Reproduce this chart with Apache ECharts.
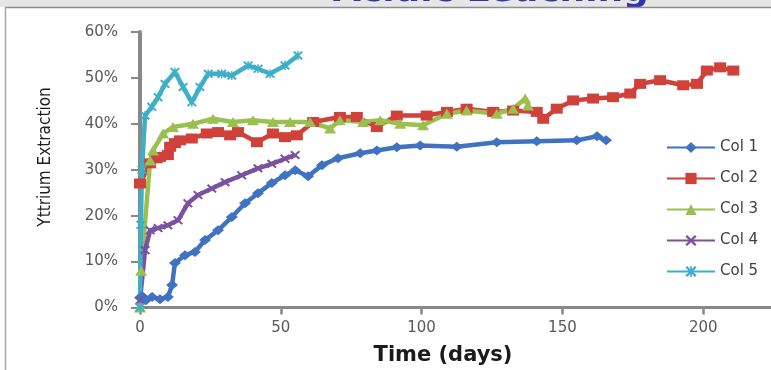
<!DOCTYPE html>
<html>
<head>
<meta charset="utf-8">
<script src="https://cdn.jsdelivr.net/npm/echarts/dist/echarts.min.js"></script>
<style>
html, body { margin: 0; padding: 0; background: #fff; }
#myEcharts { width: 771px; height: 370px; }
</style>
</head>
<body>
<div id="myEcharts"></div>
<script>
// values: time in days, extraction in %
var seriesNames = ['Col 1', 'Col 2', 'Col 3', 'Col 4', 'Col 5'];

var col1Days = [0, 0.7, 2.1, 4.3, 7.1, 9.9, 11.4, 12.4, 16, 19.5, 23.1, 27.7, 32.6, 37.3, 41.9, 46.8, 51.5, 55.1, 59.7, 64.6, 70.3, 78.2, 84.1, 91.2, 99.5, 112.5, 126.7, 140.9, 155.1, 162.3, 165.5];
var col1Vals = [2.1, 2.5, 1.6, 2.3, 1.8, 2.3, 4.9, 9.7, 11.4, 12.1, 14.7, 16.8, 19.7, 22.7, 24.9, 27.1, 28.8, 29.9, 28.6, 31, 32.5, 33.6, 34.2, 34.9, 35.3, 35, 36, 36.2, 36.4, 37.3, 36.4];

var col2Days = [0, 3.6, 5.9, 7.1, 9.9, 10.7, 12.4, 14.2, 18.4, 23.7, 27.7, 32, 34.8, 41.5, 47.2, 51.5, 55.7, 61.5, 71, 77, 84.1, 91.2, 101.8, 109, 116, 125.4, 132.5, 140.9, 143.2, 148, 153.8, 160.9, 168, 174.1, 177.6, 184.7, 192.9, 197.8, 201.3, 206, 210.7];
var col2Vals = [27, 31.4, 32.5, 32.8, 33.2, 35, 35.8, 36.4, 36.8, 37.9, 38.2, 37.5, 38.2, 36, 37.9, 37.1, 37.5, 40.4, 41.5, 41.5, 39.3, 41.8, 41.8, 42.6, 43.3, 42.6, 42.9, 42.6, 41.1, 43.3, 45.1, 45.5, 45.8, 46.6, 48.7, 49.5, 48.4, 48.7, 51.6, 52.3, 51.6];

var col3Days = [0, 0.4, 3.6, 4.6, 8.2, 11.7, 18.8, 25.9, 33, 40.1, 47.2, 53.3, 60.4, 67.5, 71, 79.2, 85.3, 92.4, 100.5, 109, 116, 126.7, 132.5, 136.8, 137.8];
var col3Vals = [0, 8, 32, 34.2, 37.9, 39.3, 40, 41.1, 40.4, 40.8, 40.4, 40.4, 40.4, 39, 40.8, 40.4, 40.8, 40, 39.7, 42.2, 42.9, 42.2, 43.3, 45.5, 44];

var col4Days = [0, 1.8, 3.6, 6.4, 9.9, 13.5, 17, 20.6, 25.5, 30.2, 36.1, 41.9, 46.8, 51.5, 55.1];
var col4Vals = [1.6, 12.5, 16.8, 17.3, 17.9, 19, 22.7, 24.5, 25.9, 27.3, 28.8, 30.3, 31.3, 32.4, 33.2];

var col5Days = [0, 0.3, 0.7, 1.8, 4.2, 6.4, 8.9, 12.4, 15.3, 18.4, 21.3, 24.2, 29, 32.6, 38.4, 41.9, 46.2, 51.5, 56.1];
var col5Vals = [0, 18, 30, 41.8, 43.7, 45.8, 48.7, 51.3, 48, 44.7, 48, 50.9, 50.9, 50.5, 52.7, 52, 50.9, 52.7, 54.9];

var xTicks = [0, 50, 100, 150, 200];
var yTicks = [0, 10, 20, 30, 40, 50, 60];

var colors = ['#3F73C2', '#D0413A', '#9AC150', '#7B529F', '#3EAFC8'];
var xMark = 'path://M0,1.5L1.5,0L5,3.5L8.5,0L10,1.5L6.5,5L10,8.5L8.5,10L5,6.5L1.5,10L0,8.5L3.5,5Z';
var starMark = 'path://M0,1.5L1.5,0L5,3.5L8.5,0L10,1.5L6.5,5L10,8.5L8.5,10L5,6.5L1.5,10L0,8.5L3.5,5Z M4.3,0L5.7,0L5.7,10L4.3,10Z';
var symbols = ['diamond', 'rect', 'triangle', xMark, starMark];
var symbolSizes = [[12, 10], [12, 10], [12, 10], [10, 9], [10, 9]];

function zip(days, vals) {
    let out = [];
    days.forEach(function (d, i) {
        out.push([d, vals[i]]);
    });
    return out;
}

var allData = [
    zip(col1Days, col1Vals),
    zip(col2Days, col2Vals),
    zip(col3Days, col3Vals),
    zip(col4Days, col4Vals),
    zip(col5Days, col5Vals)
];

var series = [];
seriesNames.forEach(function (name, i) {
    series.push({
        name: name,
        type: 'line',
        data: allData[i],
        symbol: symbols[i],
        symbolSize: symbolSizes[i],
        showAllSymbol: true,
        clip: false,
        itemStyle: { color: colors[i] },
        lineStyle: { color: colors[i], width: 4.5 }
    });
});

var myChart = echarts.init(document.getElementById('myEcharts'));

myChart.setOption({
    animation: false,
    color: colors,
    // plot area runs past the right edge, the picture is cut there
    grid: {
        left: 140,
        top: 32,
        height: 275.5,
        width: 704,
        outerBoundsMode: 'none',
        containLabel: false
    },
    legend: {
        orient: 'vertical',
        left: 661,
        top: 135,
        itemWidth: 48,
        itemHeight: 14,
        itemGap: 16,
        data: seriesNames,
        textStyle: { color: '#404040', fontSize: 15, fontFamily: 'DejaVu Sans' }
    },
    xAxis: {
        type: 'value',
        min: xTicks[0],
        max: 250,
        interval: xTicks[1] - xTicks[0],
        splitLine: { show: false },
        axisLine: { lineStyle: { color: '#888', width: 3 } },
        axisTick: { length: 7, lineStyle: { color: '#888', width: 2.5 } },
        axisLabel: {
            color: '#595959',
            fontSize: 15,
            fontFamily: 'DejaVu Sans',
            margin: 13,
            formatter: function (v) { return xTicks.indexOf(v) >= 0 ? String(v) : ''; }
        }
    },
    yAxis: {
        type: 'value',
        min: yTicks[0],
        max: yTicks[yTicks.length - 1],
        interval: yTicks[1] - yTicks[0],
        splitLine: { show: false },
        axisLine: { show: true, lineStyle: { color: '#888', width: 4 } },
        axisTick: { show: true, length: 9, lineStyle: { color: '#888', width: 2 } },
        axisLabel: {
            color: '#595959',
            fontSize: 15,
            fontFamily: 'DejaVu Sans',
            margin: 22,
            formatter: '{value}%'
        }
    },
    graphic: [
        { type: 'rect', z: -10, shape: { x: 0, y: 0, width: 771, height: 7 }, style: { fill: '#e6e6e6' } },
        {
            type: 'text', x: 333, y: 10, z: 5,
            style: {
                text: 'Acidic Leaching', font: 'bold 36px "DejaVu Sans"', fill: '#3434aa',
                align: 'left', verticalAlign: 'bottom', textAlign: 'left', textVerticalAlign: 'bottom'
            }
        },
        { type: 'line', z: 7, shape: { x1: 5, y1: 7.5, x2: 771, y2: 7.5 }, style: { stroke: '#8c8c8c', lineWidth: 1.5 } },
        { type: 'line', z: 7, shape: { x1: 5.5, y1: 7, x2: 5.5, y2: 370 }, style: { stroke: '#a6a6a6', lineWidth: 1.5 } },
        {
            type: 'text', x: 46, y: 157, rotation: Math.PI / 2,
            style: {
                text: 'Yttrium Extraction', font: '17px "DejaVu Sans Condensed"', fill: '#1f1f1f',
                align: 'center', verticalAlign: 'middle', textAlign: 'center', textVerticalAlign: 'middle'
            }
        },
        {
            type: 'text', x: 443, y: 356,
            style: {
                text: 'Time (days)', font: 'bold 21px "DejaVu Sans"', fill: '#1a1a1a',
                align: 'center', verticalAlign: 'middle', textAlign: 'center', textVerticalAlign: 'middle'
            }
        }
    ],
    series: series
});
</script>
</body>
</html>
